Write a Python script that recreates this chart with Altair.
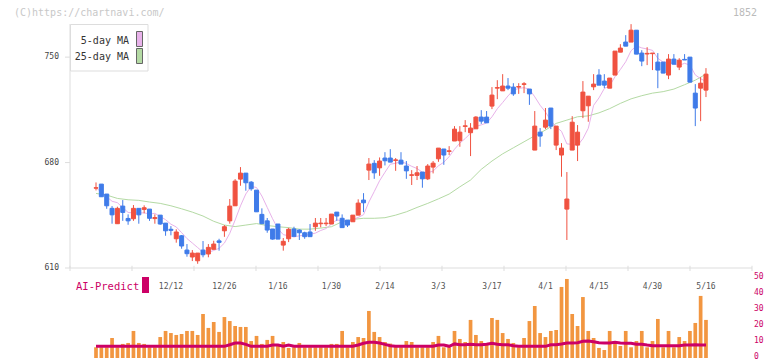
import altair as alt
import pandas as pd

# ---------------- data ----------------
opens = [663.0, 665.7, 659.1, 649.6, 639.4, 651.1, 642.9, 642.7, 649.6, 648.9,
         649.1, 642.8, 645.1, 639.8, 635.7, 629.4, 631.4, 621.9, 617.3, 614.8,
         621.9, 619.3, 622.4, 628.0, 634.7, 641.3, 651.3, 669.0, 673.0, 667.0,
         661.7, 645.6, 641.3, 635.9, 639.2, 625.2, 629.4, 635.9, 635.2, 633.4,
         633.9, 637.4, 639.4, 639.4, 639.2, 647.1, 643.0, 641.8, 640.7, 645.1,
         655.1, 675.0, 679.5, 676.5, 683.0, 683.0, 681.4, 681.6, 677.7, 671.5,
         671.5, 673.7, 669.2, 677.0, 682.5, 689.0, 687.4, 694.3, 694.5, 704.0,
         699.8, 702.4, 710.2, 710.2, 717.5, 729.4, 727.6, 730.8, 730.1, 730.1,
         731.9, 728.8, 688.3, 700.2, 703.5, 716.2, 691.6, 685.0, 649.1, 688.3,
         691.6, 714.4, 717.7, 730.3, 738.1, 734.1, 729.4, 738.1, 753.3, 760.0,
         760.0, 767.9, 752.7, 752.1, 752.3, 746.7, 746.7, 738.1, 748.7, 743.4,
         748.5, 750.0, 726.1, 729.4, 728.1]
highs = [666.8, 665.7, 659.1, 651.1, 650.7, 655.1, 645.6, 651.8, 649.6, 651.6,
         649.1, 645.6, 645.1, 639.8, 637.8, 635.7, 631.9, 625.9, 621.9, 619.9,
         627.9, 625.9, 628.1, 629.4, 638.5, 655.8, 669.0, 677.0, 673.0, 667.7,
         661.7, 649.6, 643.2, 635.9, 639.2, 629.9, 636.7, 637.4, 635.7, 634.1,
         639.2, 643.2, 643.2, 643.2, 645.8, 647.1, 645.6, 641.8, 645.1, 655.6,
         659.7, 683.0, 681.6, 683.4, 686.9, 688.9, 683.0, 686.9, 681.0, 675.0,
         677.7, 673.7, 679.0, 681.0, 689.6, 689.0, 690.9, 704.2, 704.2, 708.2,
         706.2, 710.8, 714.8, 714.2, 730.1, 734.7, 738.7, 736.1, 732.7, 732.7,
         733.4, 728.8, 714.2, 702.9, 716.2, 716.2, 704.2, 692.9, 673.7, 710.8,
         704.9, 734.1, 724.1, 738.7, 742.0, 738.7, 736.1, 754.0, 758.6, 764.6,
         771.9, 767.9, 754.6, 756.6, 752.7, 752.7, 746.7, 752.0, 752.0, 749.3,
         752.0, 750.0, 732.1, 736.7, 742.7]
lows = [661.5, 657.3, 649.3, 639.4, 639.4, 641.3, 638.7, 641.3, 639.4, 646.3,
        641.3, 639.4, 638.7, 631.4, 631.7, 626.8, 622.8, 617.5, 614.6, 612.8,
        617.1, 617.1, 622.4, 621.5, 630.7, 639.4, 651.3, 664.6, 661.3, 661.3,
        647.3, 639.4, 633.4, 628.8, 629.2, 621.5, 627.2, 631.0, 628.6, 629.4,
        630.8, 634.7, 637.0, 637.8, 639.2, 641.3, 636.8, 637.2, 640.7, 645.1,
        647.1, 668.4, 669.2, 671.2, 678.1, 680.3, 674.5, 679.0, 669.2, 665.1,
        668.4, 663.3, 668.4, 672.8, 680.5, 678.5, 685.0, 694.3, 690.5, 700.2,
        684.3, 702.4, 705.7, 706.4, 715.5, 722.1, 727.6, 728.1, 724.3, 725.6,
        726.1, 718.3, 688.3, 690.5, 702.2, 702.2, 688.3, 670.6, 628.6, 688.3,
        681.0, 709.5, 707.1, 728.1, 731.4, 729.4, 729.4, 738.1, 753.3, 757.3,
        760.0, 752.0, 744.0, 744.7, 741.4, 729.4, 739.4, 735.4, 745.3, 741.4,
        748.1, 733.4, 704.2, 707.5, 723.5]
closes = [663.3, 657.3, 651.3, 645.3, 649.6, 646.9, 641.3, 649.6, 645.3, 650.0,
          643.0, 643.5, 639.2, 634.7, 635.0, 633.9, 624.6, 619.5, 619.9, 619.9,
          618.8, 623.7, 625.9, 627.0, 637.4, 651.1, 667.7, 673.0, 666.6, 662.6,
          647.3, 639.4, 635.2, 629.2, 629.2, 627.7, 635.7, 631.0, 633.4, 630.8,
          630.8, 639.8, 639.8, 639.8, 645.8, 644.5, 636.8, 638.5, 645.1, 653.1,
          653.3, 679.0, 673.2, 681.0, 681.2, 680.3, 681.8, 679.0, 674.5, 671.9,
          673.2, 669.2, 677.7, 679.6, 689.6, 685.0, 687.8, 702.2, 700.2, 704.4,
          702.9, 710.2, 707.5, 706.4, 724.8, 729.8, 730.8, 729.4, 725.6, 730.5,
          732.3, 725.6, 704.2, 697.6, 708.2, 704.2, 704.2, 689.6, 655.8, 706.8,
          700.2, 726.8, 724.1, 732.1, 731.4, 731.4, 736.1, 754.0, 756.0, 757.3,
          767.9, 752.0, 747.4, 752.5, 752.7, 741.4, 739.4, 748.7, 745.3, 748.0,
          748.1, 733.4, 716.2, 732.7, 738.7]
volume = [6.7, 6.7, 6.7, 12.5, 6.7, 8.8, 9.4, 16.9, 9.4, 8.8,
          6.7, 6.7, 13.1, 16.9, 15.6, 14.4, 15.0, 16.9, 16.9, 14.4,
          27.5, 18.8, 22.5, 16.3, 25.6, 23.1, 20.0, 19.4, 19.4, 10.6,
          13.8, 8.8, 11.3, 13.8, 8.1, 10.0, 6.3, 6.7, 9.4, 6.7,
          6.7, 6.7, 6.7, 6.7, 8.8, 8.8, 16.9, 6.7, 10.0, 13.1,
          12.5, 29.4, 16.3, 13.1, 10.0, 9.0, 7.9, 6.7, 10.6, 10.0,
          6.7, 6.7, 6.7, 10.0, 13.8, 6.7, 6.7, 16.9, 11.9, 10.0,
          23.8, 14.4, 10.6, 9.4, 25.0, 23.8, 15.6, 11.9, 9.4, 6.7,
          12.5, 23.1, 32.5, 15.6, 13.1, 16.9, 17.5, 44.4, 49.4, 27.5,
          20.0, 38.1, 16.9, 12.5, 6.3, 5.0, 16.9, 10.0, 7.5, 16.9,
          6.7, 10.6, 16.9, 6.7, 10.6, 24.4, 6.7, 16.9, 6.7, 13.1,
          10.6, 16.9, 21.9, 38.8, 23.8]
ai_pred = [7.3, 7.3, 7.3, 7.3, 7.3, 7.3, 7.3, 7.3, 7.3, 7.3,
           7.3, 7.3, 7.3, 7.3, 7.3, 7.3, 7.3, 7.3, 7.3, 7.3,
           7.3, 7.3, 7.3, 7.3, 7.3, 8.3, 9.4, 9.4, 8.5, 7.3,
           7.3, 7.3, 7.3, 8.1, 8.1, 7.3, 8.1, 7.3, 7.3, 7.3,
           7.3, 7.3, 7.3, 7.3, 7.3, 7.3, 7.3, 7.3, 7.3, 8.1,
           9.2, 9.8, 9.8, 9.4, 8.5, 7.7, 7.3, 7.3, 7.3, 7.3,
           7.3, 7.3, 7.3, 7.3, 8.1, 8.1, 7.3, 8.8, 8.3, 8.3,
           8.6, 8.3, 8.3, 8.6, 9.2, 8.6, 8.3, 8.3, 7.7, 7.3,
           7.3, 7.3, 7.3, 7.3, 7.3, 8.3, 8.3, 8.8, 9.4, 9.4,
           9.6, 10.4, 10.6, 10.2, 9.6, 9.4, 9.4, 9.8, 9.4, 9.2,
           9.2, 8.6, 8.6, 8.1, 7.7, 7.7, 7.7, 7.7, 7.7, 7.7,
           8.1, 8.1, 8.3, 8.1, 8.1]
ma25_idx = [0, 2, 4, 6, 8, 10, 12, 14, 16, 18, 20, 22, 24, 26, 28, 30, 32, 34, 36, 38,
            40, 42, 44, 46, 48, 50, 52, 54, 56, 58, 60, 62, 64, 66, 68, 70, 72, 74, 76, 78,
            80, 82, 84, 86, 88, 90, 92, 94, 96, 98, 100, 102, 104, 106, 108, 110, 112, 114]
ma25 = [659.5, 658.4, 656.2, 655.3, 654.9, 653.8, 652.9, 651.3, 649.3, 647.1,
        644.5, 641.0, 638.5, 637.5, 638.5, 639.5, 638.2, 637.4, 636.8, 635.8,
        635.8, 636.5, 637.4, 640.7, 642.3, 643.0, 643.0, 643.4, 645.1, 647.3,
        650.2, 652.9, 655.9, 659.1, 663.9, 668.4, 675.5, 681.0, 685.8, 689.8,
        693.8, 697.8, 701.6, 706.0, 708.2, 710.4, 711.0, 713.0, 715.8, 719.3,
        722.3, 724.4, 726.1, 727.1, 728.8, 731.7, 734.7, 738.7]
date_labels = ["12/12", "12/26", "1/16", "1/30", "2/14", "3/3", "3/17", "4/1", "4/15", "4/30", "5/16"]
date_idx = [14, 24, 34, 44, 54, 64, 74, 84, 94, 104, 114]
price_ticks = [610, 680, 750]
vol_ticks = [0, 10, 20, 30, 40, 50]

# ---------------- styling ----------------
RED = "#f05240"
BLUE = "#3f7be9"
ORANGE = "#f29640"
CRIMSON = "#cc0066"
PINK = "#e8b2ea"
GREEN = "#b4daa4"
AXC = "#dddddd"
MONO = "DejaVu Sans Mono"

W, H = 682, 334
XMIN, XMAX = -4.86, 122.6
x_scale = alt.Scale(domain=[XMIN, XMAX], nice=False, zero=False, padding=0)
price_scale = alt.Scale(domain=[610, 772], range=[244, 0], nice=False, zero=False, padding=0)
vol_scale = alt.Scale(domain=[0, 50], range=[334, 254], nice=False, zero=True, padding=0)
xtick_pos = [XMIN + k * (XMAX - XMIN) / 11 for k in range(12)]

df = pd.DataFrame({"idx": list(range(len(opens))), "open": opens, "high": highs,
                   "low": lows, "close": closes, "vol": volume, "ai": ai_pred})
base = alt.Chart(df)
X = alt.X("idx:Q", scale=x_scale, axis=None)
up = "datum.close >= datum.open"
ccol = alt.condition(up, alt.value(RED), alt.value(BLUE))


def PY(field):
    return alt.Y(field, scale=price_scale, axis=None)


def VY(field):
    return alt.Y(field, scale=vol_scale, axis=None)


# ---- price panel ----
frame_df = pd.DataFrame({"lo": [610], "hi": [772]})
baseline = alt.Chart(frame_df).mark_rule(color=AXC).encode(y=PY("lo:Q"))
left_line = alt.Chart(frame_df).mark_rule(color=AXC).encode(
    x=alt.value(0), y=PY("lo:Q"), y2="hi:Q")
xticks = alt.Chart(pd.DataFrame({"t": xtick_pos, "a": 611.5, "b": 608.0})).mark_rule(color=AXC).encode(
    x=alt.X("t:Q", scale=x_scale, axis=None), y=PY("a:Q"), y2="b:Q")
pt_df = alt.Chart(pd.DataFrame({"p": price_ticks}))
ytick_marks = pt_df.mark_rule(color=AXC).encode(x=alt.value(-5), x2=alt.value(0), y=PY("p:Q"))
ytick_labels = pt_df.mark_text(font=MONO, fontSize=8, color="#444", align="right",
                               baseline="middle").encode(x=alt.value(-11), y=PY("p:Q"), text="p:Q")
ma25_line = alt.Chart(pd.DataFrame({"idx": ma25_idx, "m": ma25})).mark_line(
    color=GREEN, strokeWidth=1).encode(x=X, y=PY("m:Q"))
ma5_line = base.transform_window(
    ma5="mean(close)", frame=[-4, 0], sort=[alt.SortField("idx")]
).mark_line(color=PINK, strokeWidth=1).encode(x=X, y=PY("ma5:Q"))
wick = base.mark_rule(strokeWidth=1).encode(x=X, y=PY("low:Q"), y2="high:Q", color=ccol)
body = base.mark_bar(size=4, strokeWidth=1).encode(
    x=X, y=PY("open:Q"), y2="close:Q", color=ccol, stroke=ccol)

price_group = alt.layer(baseline, left_line, xticks, ytick_marks, ytick_labels,
                        ma25_line, ma5_line, wick, body)

# ---- volume / AI panel ----
vol_bars = base.mark_bar(size=3.7, color=ORANGE).encode(x=X, y=VY("vol:Q"))
ai_line = base.mark_line(color=CRIMSON, strokeWidth=3).encode(x=X, y=VY("ai:Q"))
vol_labels = alt.Chart(pd.DataFrame({"v": vol_ticks})).mark_text(
    font=MONO, fontSize=8, color=CRIMSON, align="left", baseline="middle", dy=-1.5).encode(
    x=alt.value(W + 2), y=VY("v:Q"), text="v:Q")
vol_group = alt.layer(vol_bars, ai_line, vol_labels)

# ---------------- texts / legends ----------------
dates = alt.Chart(pd.DataFrame({"idx": date_idx, "lab": date_labels})).mark_text(
    font=MONO, fontSize=8, color="#555", baseline="middle", align="center").encode(
    x=X, y=alt.value(263), text="lab:N")

one = pd.DataFrame({"k": [0]})
copyright_t = alt.Chart(one).mark_text(text="(C)https://chartnavi.com/", font=MONO, fontSize=10,
                                       color="#c8c8c8", align="left", baseline="alphabetic").encode(
    x=alt.value(-56), y=alt.value(-8.5))
code_t = alt.Chart(one).mark_text(text="1852", font=MONO, fontSize=10, color="#bbbbbb",
                                  align="right", baseline="alphabetic").encode(
    x=alt.value(687), y=alt.value(-8.5))
legend_box = alt.Chart(one).mark_rect(fill="white", stroke=AXC, strokeWidth=1).encode(
    x=alt.value(0.5), x2=alt.value(78), y=alt.value(0.5), y2=alt.value(47))
leg_t1 = alt.Chart(one).mark_text(text="5-day MA", font=MONO, fontSize=10, color="#333",
                                  align="right", baseline="middle").encode(
    x=alt.value(59), y=alt.value(17))
leg_t2 = alt.Chart(one).mark_text(text="25-day MA", font=MONO, fontSize=10, color="#333",
                                  align="right", baseline="middle").encode(
    x=alt.value(59), y=alt.value(33))
leg_s1 = alt.Chart(one).mark_rect(fill=PINK, stroke="#666", strokeWidth=1).encode(
    x=alt.value(66.5), x2=alt.value(72.5), y=alt.value(7.5), y2=alt.value(22.5))
leg_s2 = alt.Chart(one).mark_rect(fill=GREEN, stroke="#666", strokeWidth=1).encode(
    x=alt.value(66.5), x2=alt.value(72.5), y=alt.value(24.5), y2=alt.value(39.5))
ai_t = alt.Chart(one).mark_text(text="AI-Predict", font=MONO, fontSize=10.5, color=CRIMSON,
                                align="left", baseline="middle").encode(
    x=alt.value(6), y=alt.value(263))
ai_s = alt.Chart(one).mark_rect(fill=CRIMSON).encode(
    x=alt.value(72), x2=alt.value(79), y=alt.value(253), y2=alt.value(269))

chart = alt.layer(
    price_group, vol_group, dates, copyright_t, code_t,
    legend_box, leg_t1, leg_t2, leg_s1, leg_s2, ai_t, ai_s
).resolve_scale(y="independent").properties(
    width=W, height=H,
    autosize=alt.AutoSizeParams(type="none"),
    padding={"left": 62, "top": 16, "right": 12, "bottom": 6},
    background="white",
).configure_view(stroke=None)

chart.save("out.html", embed_options={"renderer": "svg", "actions": False})
